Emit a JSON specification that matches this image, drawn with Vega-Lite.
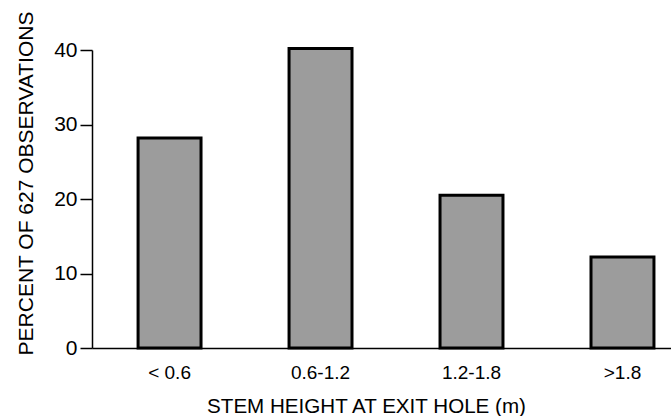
{
  "$schema": "https://vega.github.io/schema/vega-lite/v6.json",
  "width": 579,
  "height": 298,
  "autosize": "none",
  "padding": {"left": 92, "top": 50, "right": 0, "bottom": 68},
  "background": "white",
  "config": {
    "view": {"stroke": null},
    "font": "Liberation Sans"
  },
  "data": {
    "values": [
      {"height": "< 0.6", "percent": 28.2},
      {"height": "0.6-1.2", "percent": 40.2},
      {"height": "1.2-1.8", "percent": 20.5},
      {"height": ">1.8", "percent": 12.2}
    ]
  },
  "mark": {"type": "bar", "fill": "#9c9c9c", "stroke": "black", "strokeWidth": 3, "strokeJoin": "miter"},
  "encoding": {
    "x": {
      "field": "height",
      "type": "nominal",
      "sort": null,
      "scale": {"paddingInner": 0.583, "paddingOuter": 0.209, "align": 0.73},
      "axis": {
        "title": "STEM HEIGHT AT EXIT HOLE (m)",
        "titleFont": "Liberation Sans",
        "titleFontSize": 20.6,
        "titleFontWeight": "normal",
        "titleColor": "black",
        "titleX": 274,
        "titleY": 64,
        "titleBaseline": "alphabetic",
        "titleAlign": "center",
        "labelAngle": 0,
        "labelFontSize": 19,
        "labelColor": "black",
        "labelPadding": 15,
        "ticks": false,
        "domainColor": "black",
        "domainWidth": 1.5
      }
    },
    "y": {
      "field": "percent",
      "type": "quantitative",
      "scale": {"domain": [0, 40], "nice": false},
      "axis": {
        "title": "PERCENT OF 627 OBSERVATIONS",
        "titleFont": "Liberation Sans",
        "titleFontSize": 21,
        "titleFontWeight": "normal",
        "titleColor": "black",
        "titleX": -60,
        "titleY": 133,
        "titleBaseline": "alphabetic",
        "titleAlign": "center",
        "titleAngle": -90,
        "values": [0, 10, 20, 30, 40],
        "grid": false,
        "tickSize": 12,
        "tickWidth": 1.5,
        "tickColor": "black",
        "domainColor": "black",
        "domainWidth": 1.5,
        "labelFontSize": 21,
        "labelColor": "black",
        "labelPadding": 3
      }
    }
  }
}
